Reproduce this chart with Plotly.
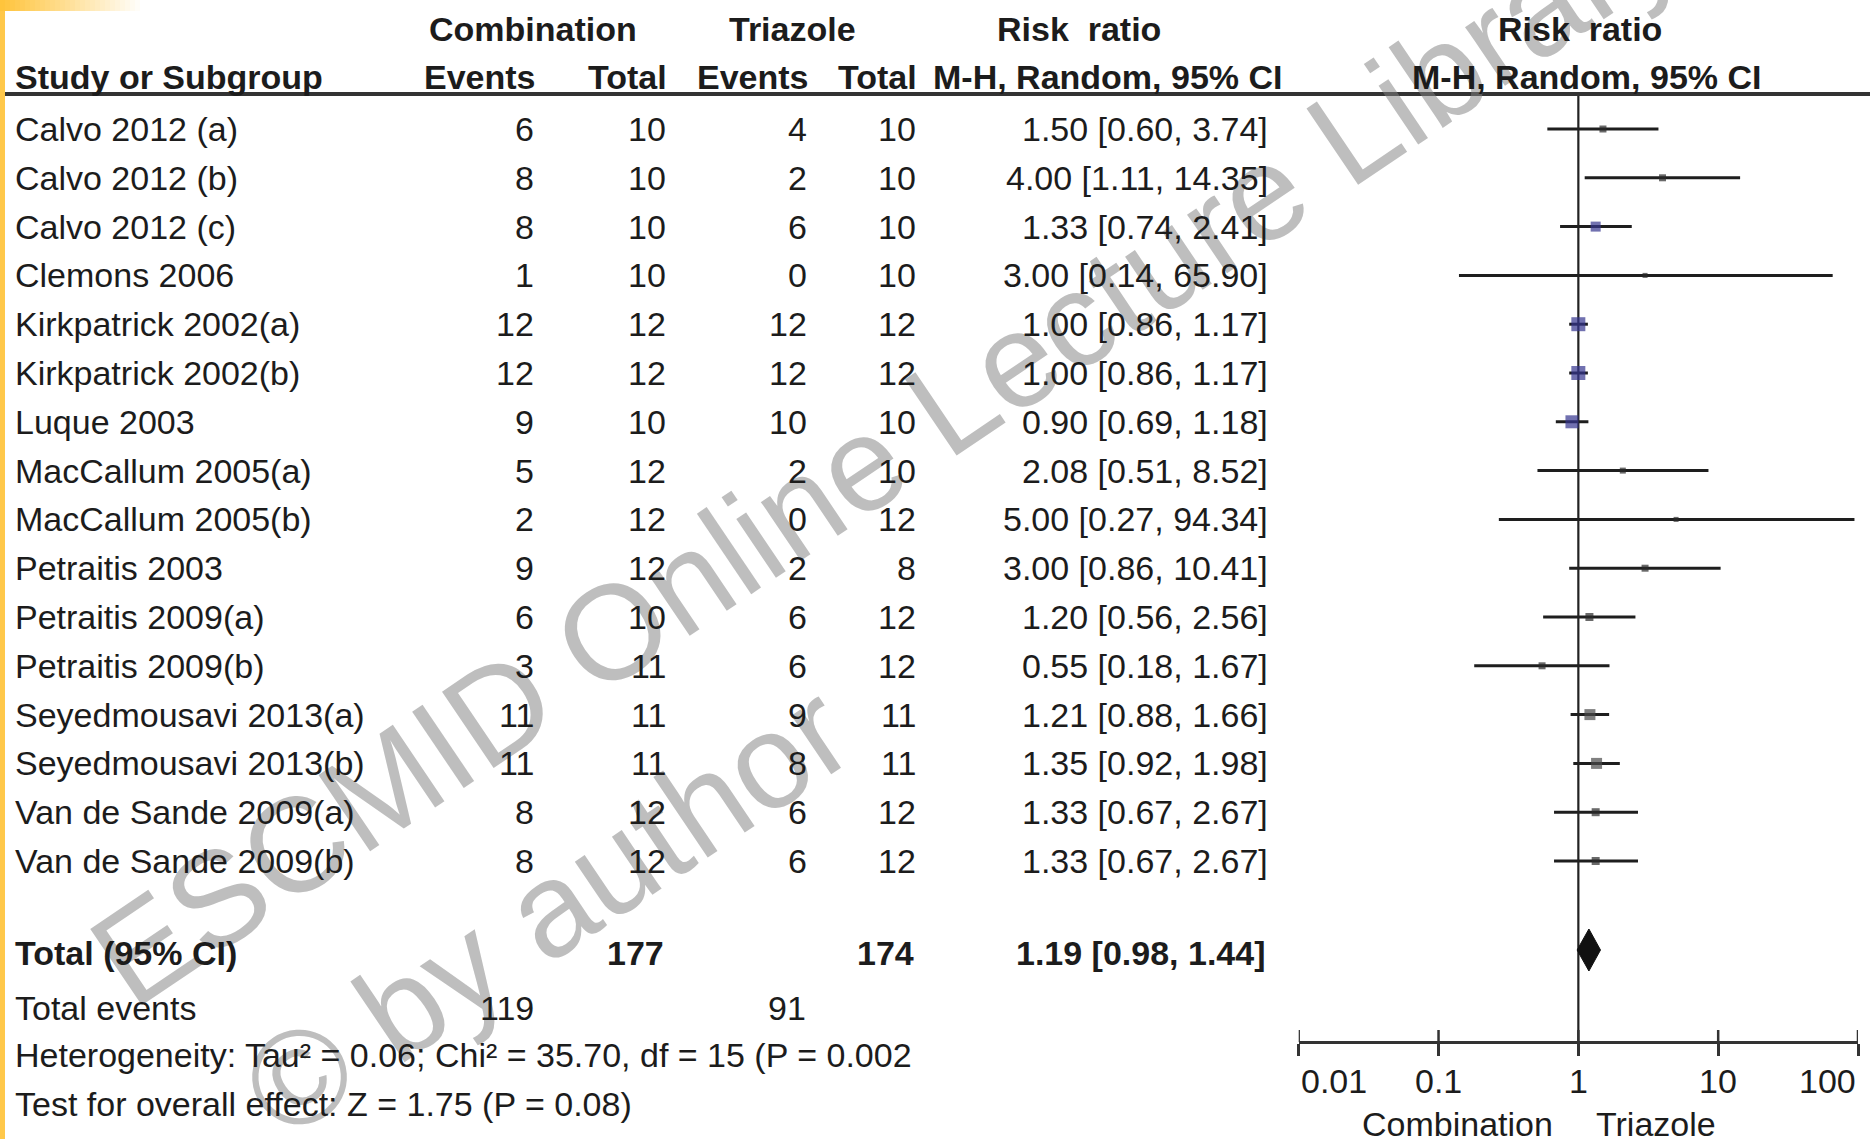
import math
import plotly.graph_objects as go

# ---------------------------------------------------------------- data
studies = ["Calvo 2012 (a)", "Calvo 2012 (b)", "Calvo 2012 (c)", "Clemons 2006",
           "Kirkpatrick 2002(a)", "Kirkpatrick 2002(b)", "Luque 2003",
           "MacCallum 2005(a)", "MacCallum 2005(b)", "Petraitis 2003",
           "Petraitis 2009(a)", "Petraitis 2009(b)", "Seyedmousavi 2013(a)",
           "Seyedmousavi 2013(b)", "Van de Sande 2009(a)", "Van de Sande 2009(b)"]
comb_events = [6, 8, 8, 1, 12, 12, 9, 5, 2, 9, 6, 3, 11, 11, 8, 8]
comb_total = [10, 10, 10, 10, 12, 12, 10, 12, 12, 12, 10, 11, 11, 11, 12, 12]
tri_events = [4, 2, 6, 0, 12, 12, 10, 2, 0, 2, 6, 6, 9, 8, 6, 6]
tri_total = [10, 10, 10, 10, 12, 12, 10, 10, 12, 8, 12, 12, 11, 11, 12, 12]
rr = [1.50, 4.00, 1.33, 3.00, 1.00, 1.00, 0.90, 2.08, 5.00, 3.00,
      1.20, 0.55, 1.21, 1.35, 1.33, 1.33]
ci_low = [0.60, 1.11, 0.74, 0.14, 0.86, 0.86, 0.69, 0.51, 0.27, 0.86,
          0.56, 0.18, 0.88, 0.92, 0.67, 0.67]
ci_high = [3.74, 14.35, 2.41, 65.90, 1.17, 1.17, 1.18, 8.52, 94.34, 10.41,
           2.56, 1.67, 1.66, 1.98, 2.67, 2.67]

total_comb = 177
total_tri = 174
events_comb = 119
events_tri = 91
pooled_rr = 1.19
pooled_low = 0.98
pooled_high = 1.44
heterogeneity_text = "Heterogeneity: Tau² = 0.06; Chi² = 35.70, df = 15 (P = 0.002"
overall_text = "Test for overall effect: Z = 1.75 (P = 0.08)"

axis_tickvals = [0.01, 0.1, 1, 10, 100]
axis_ticktext = ["0.01", "0.1", "1", "10", "100"]

# ---------------------------------------------------------------- styling
W, H = 1870, 1139
FONT = "Liberation Sans, Arial, Helvetica, sans-serif"
INK = "#1c1c1c"
FS = 34

ROW0, ROW_STEP = 129, 48.8
row_y = [ROW0 + i * ROW_STEP for i in range(len(studies))]
Y_TOTAL, Y_EVENTS, Y_HET, Y_TEST = 953, 1008, 1055, 1104
Y_HEAD1, Y_HEAD2, Y_RULE = 29, 77, 94
Y_AXIS = 1042
Y_TICKLAB = 1081

marker_size = [7, 7, 10, 5, 14, 14, 13, 6, 5, 7, 8, 7, 11, 11, 8, 8]
marker_color = ["#2b2b2b", "#2b2b2b", "#35358f", "#2b2b2b", "#35358f", "#35358f",
                "#35358f", "#2b2b2b", "#2b2b2b", "#2b2b2b", "#2b2b2b", "#2b2b2b",
                "#4a4a4a", "#4a4a4a", "#2b2b2b", "#2b2b2b"]

# forest axis spans 0.01 .. 100 between these pixel columns
FX0, FX1 = 1298.7, 1858.0

fig = go.Figure()

# confidence interval whiskers
ci_x, ci_y = [], []
for lo, hi, y in zip(ci_low, ci_high, row_y):
    ci_x += [lo, hi, None]
    ci_y += [y, y, None]
fig.add_trace(go.Scatter(x=ci_x, y=ci_y, mode="lines",
                         line=dict(color="#1e1e1e", width=3),
                         hoverinfo="skip", showlegend=False))

# line of no effect
fig.add_trace(go.Scatter(x=[1, 1], y=[Y_RULE, Y_AXIS], mode="lines",
                         line=dict(color="#222222", width=2.2),
                         hoverinfo="skip", showlegend=False))

# point estimates
fig.add_trace(go.Scatter(x=rr, y=row_y, mode="markers",
                         marker=dict(symbol="square", size=marker_size,
                                     color=marker_color, line=dict(width=0)),
                         hoverinfo="skip", showlegend=False))

# pooled estimate diamond
DH = 21
fig.add_trace(go.Scatter(
    x=[pooled_low, pooled_rr, pooled_high, pooled_rr, pooled_low],
    y=[Y_TOTAL - 3, Y_TOTAL - 3 - DH, Y_TOTAL - 3, Y_TOTAL - 3 + DH, Y_TOTAL - 3],
    mode="lines", fill="toself", fillcolor="#111111",
    line=dict(color="#111111", width=1), hoverinfo="skip", showlegend=False))

# upper halves of the axis ticks (the axis draws the lower halves)
tk_x, tk_y = [], []
for t in axis_tickvals:
    tk_x += [t, t, None]
    tk_y += [Y_AXIS - 12, Y_AXIS, None]
fig.add_trace(go.Scatter(x=tk_x, y=tk_y, mode="lines",
                         line=dict(color="#333333", width=2.5),
                         hoverinfo="skip", showlegend=False))

# ---------------------------------------------------------------- text
ann = []


def txt(x, y, s, anchor="left", bold=False, size=FS, color=INK, xref="x2"):
    if bold:
        s = "<b>" + s + "</b>"
    ann.append(dict(x=x, y=y, xref=xref, yref="y", text=s, showarrow=False,
                    xanchor=anchor, yanchor="middle",
                    font=dict(family=FONT, size=size, color=color)))


# watermark, drawn underneath the table text
wm_font = dict(family=FONT, size=134, color="rgba(130,130,130,0.52)")
ann.append(dict(x=884, y=448, xref="x2", yref="y", text="ESCMID Online Lecture Library",
                showarrow=False, textangle=-34, font=wm_font,
                xanchor="center", yanchor="middle"))
ann.append(dict(x=546, y=910, xref="x2", yref="y", text="© by author",
                showarrow=False, textangle=-34, font=wm_font,
                xanchor="center", yanchor="middle"))

# column headers
txt(533, Y_HEAD1, "Combination", "center", bold=True)
txt(792, Y_HEAD1, "Triazole", "center", bold=True)
txt(1079, Y_HEAD1, "Risk  ratio", "center", bold=True)
txt(1580, Y_HEAD1, "Risk  ratio", "center", bold=True)
txt(13, Y_HEAD2, "Study or Subgroup", "left", bold=True)
txt(538, Y_HEAD2, "Events", "right", bold=True)
txt(669, Y_HEAD2, "Total", "right", bold=True)
txt(811, Y_HEAD2, "Events", "right", bold=True)
txt(919, Y_HEAD2, "Total", "right", bold=True)
txt(1284, Y_HEAD2, "M-H, Random, 95% CI", "right", bold=True)
txt(1586, Y_HEAD2, "M-H, Random, 95% CI", "center", bold=True)

# study rows
for i, y in enumerate(row_y):
    txt(13, y, studies[i], "left")
    txt(536, y, str(comb_events[i]), "right")
    txt(668, y, str(comb_total[i]), "right")
    txt(809, y, str(tri_events[i]), "right")
    txt(918, y, str(tri_total[i]), "right")
    txt(1270, y, f"{rr[i]:.2f} [{ci_low[i]:.2f}, {ci_high[i]:.2f}]", "right")

# summary rows
txt(13, Y_TOTAL, "Total (95% CI)", "left", bold=True)
txt(666, Y_TOTAL, str(total_comb), "right", bold=True)
txt(916, Y_TOTAL, str(total_tri), "right", bold=True)
txt(1268, Y_TOTAL, f"{pooled_rr:.2f} [{pooled_low:.2f}, {pooled_high:.2f}]", "right", bold=True)
txt(13, Y_EVENTS, "Total events", "left")
txt(536, Y_EVENTS, str(events_comb), "right")
txt(808, Y_EVENTS, str(events_tri), "right")
txt(13, Y_HET, heterogeneity_text, "left")
txt(13, Y_TEST, overall_text, "left")

# forest axis tick labels (annotations on a log axis take log10 positions);
# the end labels sit inside the axis span
for k, (tv, tt) in enumerate(zip(axis_tickvals, axis_ticktext)):
    if k == 0:
        anchor = "left"
    elif k == len(axis_tickvals) - 1:
        anchor = "right"
    else:
        anchor = "center"
    txt(math.log10(tv), Y_TICKLAB, tt, anchor, xref="x")

# favours labels under the axis
txt(1457, 1124, "Combination", "center")
txt(1656, 1124, "Triazole", "center")

# ---------------------------------------------------------------- decorations
shapes = [
    # header rule
    dict(type="line", xref="x2", yref="y", x0=5, x1=W, y0=Y_RULE, y1=Y_RULE,
         line=dict(color="#333333", width=4)),
    # slide accent bar on the left edge
    dict(type="rect", xref="x2", yref="y", x0=0, x1=5, y0=11, y1=H,
         fillcolor="#FFC84A", line=dict(width=0)),
]
# fading accent strip along the top-left edge
steps = 28
for k in range(steps):
    a = 1 - k / steps
    shapes.append(dict(type="rect", xref="x2", yref="y",
                       x0=k * 5, x1=(k + 1) * 5, y0=0, y1=11,
                       fillcolor=f"rgba(255,196,60,{a:.3f})", line=dict(width=0)))

fig.update_layout(
    width=W, height=H, autosize=False,
    margin=dict(l=0, r=0, t=0, b=0, pad=0, autoexpand=False),
    paper_bgcolor="white", plot_bgcolor="rgba(0,0,0,0)",
    annotations=ann, shapes=shapes,
    xaxis=dict(type="log", range=[-2, 2],
               domain=[FX0 / W, FX1 / W],
               anchor="free", position=1 - Y_AXIS / H,
               showline=True, linecolor="#333333", linewidth=3,
               ticks="outside", ticklen=12, tickwidth=2.5, tickcolor="#333333",
               tickvals=axis_tickvals, showticklabels=False,
               showgrid=False, zeroline=False, automargin=False),
    xaxis2=dict(range=[0, W], domain=[0, 1], anchor="y", visible=False,
                showgrid=False, zeroline=False, automargin=False),
    yaxis=dict(range=[H, 0], domain=[0, 1], visible=False,
               showgrid=False, zeroline=False, automargin=False),
)

fig.write_html("out.html")
